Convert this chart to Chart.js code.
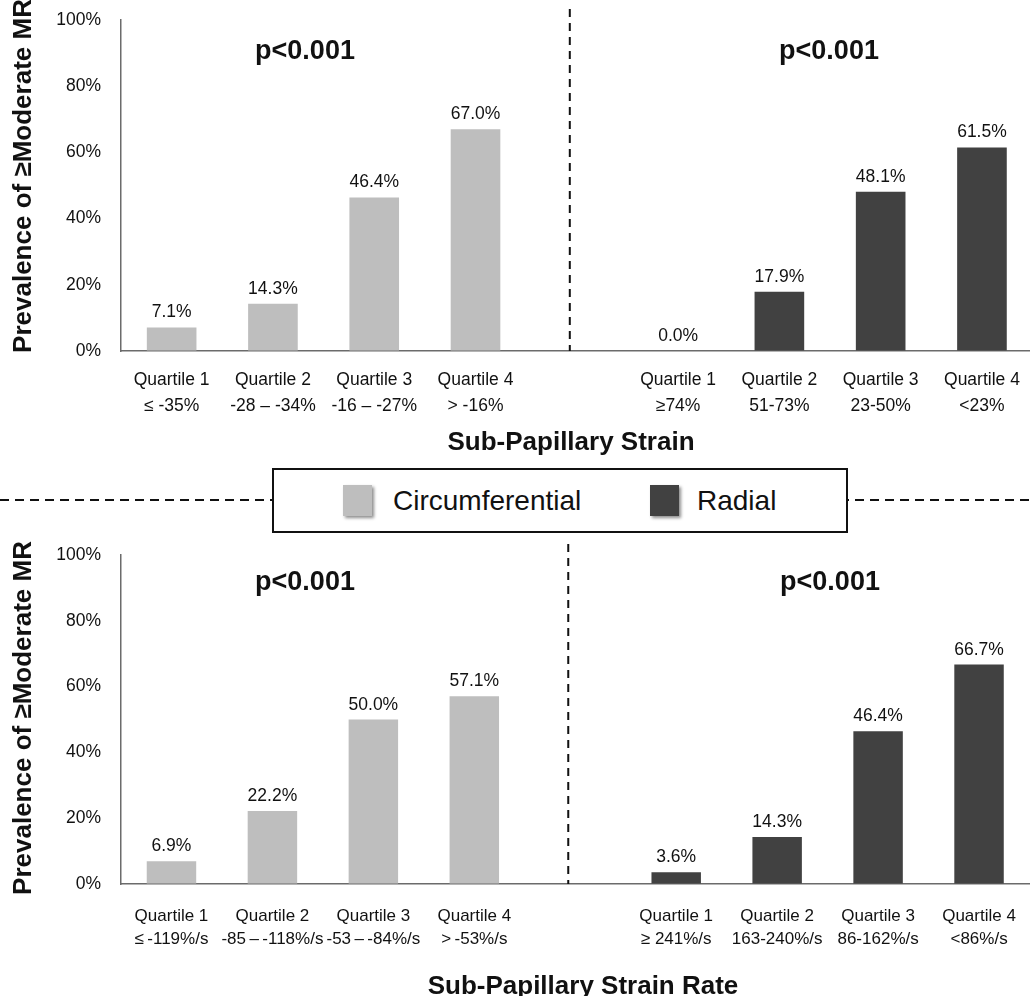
<!DOCTYPE html>
<html><head><meta charset="utf-8">
<script src="https://cdn.jsdelivr.net/npm/chart.js@4.4.1/dist/chart.umd.min.js"></script>
<style>
html,body{margin:0;padding:0;background:#fff;width:1030px;height:996px;overflow:hidden;position:relative;font-family:'Liberation Sans',Arial,sans-serif}
canvas{position:absolute;left:0}
#c1{top:0}
#c2{top:540px}
#hline{position:absolute;left:0;top:499px;width:1030px;height:2px;background:repeating-linear-gradient(to right,#111 0 9px,transparent 9px 15px)}
#legend{position:absolute;left:272px;top:468px;width:576px;height:65px;box-sizing:border-box;border:2px solid #111;background:#fff}
.sw{position:absolute;top:15px;width:29px;height:31px;box-shadow:2px 2px 3px rgba(0,0,0,.45)}
.lt{position:absolute;top:0;line-height:61px;font-size:28px;color:#111;white-space:nowrap}
</style></head>
<body>
<canvas id="c1" width="1036" height="460"></canvas>
<div id="hline"></div>
<div id="legend"></div>
<canvas id="c2" width="1036" height="456"></canvas>
<script>
// ---- data ----
const seriesNames = ['Circumferential', 'Radial'];
const seriesColors = ['#bebebe', '#414141'];

const strainLabels = [
  ['Quartile 1', '\u2264 -35%'], ['Quartile 2', '-28 \u2013 -34%'], ['Quartile 3', '-16 \u2013 -27%'], ['Quartile 4', '> -16%'],
  '',
  ['Quartile 1', '\u226574%'], ['Quartile 2', '51-73%'], ['Quartile 3', '23-50%'], ['Quartile 4', '<23%']
];
const strainCirc   = [7.1, 14.3, 46.4, 67.0, null, null, null, null, null];
const strainRadial = [null, null, null, null, null, 0.0, 17.9, 48.1, 61.5];

const rateLabels = [
  ['Quartile 1', '\u2264\u2009-119%/s'], ['Quartile 2', '-85\u2009\u2013\u2009-118%/s'], ['Quartile 3', '-53\u2009\u2013\u2009-84%/s'], ['Quartile 4', '>\u2009-53%/s'],
  '',
  ['Quartile 1', '\u2265 241%/s'], ['Quartile 2', '163-240%/s'], ['Quartile 3', '86-162%/s'], ['Quartile 4', '<86%/s']
];
const rateCirc   = [6.9, 22.2, 50.0, 57.1, null, null, null, null, null];
const rateRadial = [null, null, null, null, null, 3.6, 14.3, 46.4, 66.7];

const yTicks = [0, 20, 40, 60, 80, 100];
const yTitle = 'Prevalence of \u2265Moderate MR';
const pText = 'p<0.001';
const FONT = "'Liberation Sans', Arial, sans-serif";

// ---- legend (HTML) ----
const legend = document.getElementById('legend');
const legPos = [[69, 119], [376, 423]];
seriesNames.forEach((n, i) => {
  const sw = document.createElement('div');
  sw.className = 'sw'; sw.style.left = legPos[i][0] + 'px'; sw.style.background = seriesColors[i];
  const t = document.createElement('div');
  t.className = 'lt'; t.style.left = legPos[i][1] + 'px'; t.textContent = n;
  legend.appendChild(sw); legend.appendChild(t);
});

// ---- annotation plugin ----
const annot = {
  id: 'annot',
  afterDatasetsDraw(chart, args, o) {
    const ctx = chart.ctx, ca = chart.chartArea, xs = chart.scales.x;
    ctx.save();
    // data labels
    ctx.font = '17.5px ' + FONT; ctx.fillStyle = '#111';
    ctx.textAlign = 'center'; ctx.textBaseline = 'alphabetic';
    chart.data.datasets.forEach((ds, i) => {
      chart.getDatasetMeta(i).data.forEach((el, j) => {
        const v = ds.data[j];
        if (v === null || v === undefined) return;
        ctx.fillText(v.toFixed(1) + '%', el.x, el.y - 10);
      });
    });
    // dashed divider
    const dx = (xs.getPixelForValue(3) + xs.getPixelForValue(5)) / 2 - 7;
    ctx.strokeStyle = '#111'; ctx.lineWidth = 2; ctx.setLineDash([8, 6]);
    ctx.beginPath(); ctx.moveTo(dx, o.dashTop); ctx.lineTo(dx, ca.bottom); ctx.stroke();
    ctx.setLineDash([]);
    // p values
    ctx.font = 'bold 27px ' + FONT; ctx.textBaseline = 'middle';
    o.pPos.forEach(p => ctx.fillText(pText, p[0], p[1]));
    // x title
    ctx.font = 'bold 26px ' + FONT; ctx.textBaseline = 'alphabetic';
    ctx.fillText(o.xTitle, o.xTitlePos[0], o.xTitlePos[1]);
    // y title
    ctx.translate(o.yTitlePos[0], o.yTitlePos[1]); ctx.rotate(-Math.PI / 2);
    ctx.textBaseline = 'middle';
    ctx.fillText(yTitle, 0, 0);
    ctx.restore();
  }
};

function makeChart(id, labels, circ, rad, cfg) {
  return new Chart(document.getElementById(id), {
    type: 'bar',
    data: {
      labels: labels,
      datasets: [
        { label: seriesNames[0], data: circ, backgroundColor: seriesColors[0], grouped: false, barPercentage: 0.49, categoryPercentage: 1 },
        { label: seriesNames[1], data: rad, backgroundColor: seriesColors[1], grouped: false, barPercentage: 0.49, categoryPercentage: 1 }
      ]
    },
    options: {
      responsive: false, animation: false, devicePixelRatio: 1,
      layout: { padding: { top: cfg.padTop, right: 2, left: 0, bottom: 0 } },
      plugins: {
        legend: { display: false }, tooltip: { enabled: false },
        annot: cfg.annot
      },
      scales: {
        x: {
          afterFit: s => { s.height = cfg.xHeight; },
          grid: { color: 'rgba(0,0,0,0)', drawTicks: false },
          border: { display: true, color: '#6b6b6b', width: 1.5 },
          ticks: { font: { family: FONT, size: cfg.xFont, lineHeight: cfg.lineH }, color: '#111', padding: cfg.xPad, maxRotation: 0, minRotation: 0, autoSkip: false }
        },
        y: {
          min: 0, max: 100,
          afterFit: s => { s.width = 121; s.paddingTop = 0; s.paddingBottom = 0; },
          afterBuildTicks: s => { s.ticks = yTicks.map(v => ({ value: v })); },
          grid: { color: 'rgba(0,0,0,0)', drawTicks: false },
          border: { display: true, color: '#6b6b6b', width: 1.5 },
          ticks: { font: { family: FONT, size: 17.5 }, color: '#111', padding: 20, callback: v => v + '%' }
        }
      }
    },
    plugins: [annot]
  });
}

makeChart('c1', strainLabels, strainCirc, strainRadial, {
  padTop: 20, xHeight: 109, xPad: 16, lineH: 1.486, xFont: 17.5,
  annot: { dashTop: 9, pPos: [[305, 52], [829, 52]], xTitle: 'Sub-Papillary Strain', xTitlePos: [571, 450], yTitlePos: [24, 176] }
});
makeChart('c2', rateLabels, rateCirc, rateRadial, {
  padTop: 15, xHeight: 112, xPad: 20, lineH: 1.40, xFont: 17,
  annot: { dashTop: 4, pPos: [[305, 43], [830, 43]], xTitle: 'Sub-Papillary Strain Rate', xTitlePos: [583, 454], yTitlePos: [24, 178] }
});
</script>
</body></html>
